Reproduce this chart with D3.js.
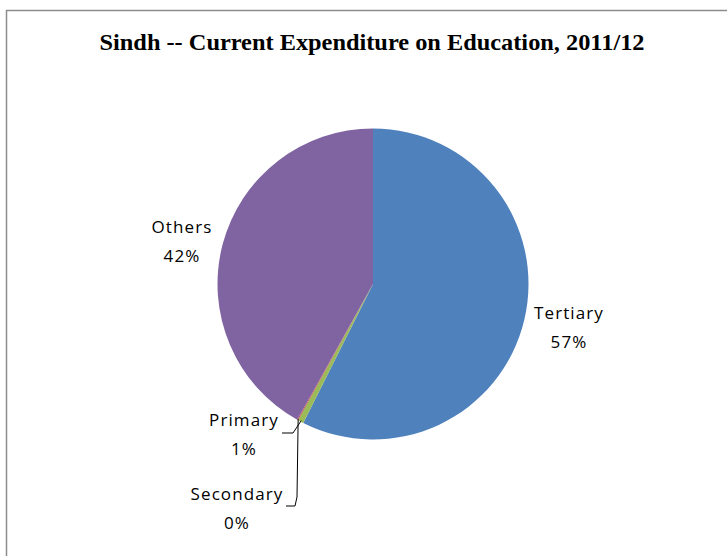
<!DOCTYPE html>
<html>
<head>
<meta charset="utf-8">
<script src="https://cdn.jsdelivr.net/npm/d3@7"></script>
<style>
  html, body { margin: 0; padding: 0; background: #fff; }
  svg { display: block; }
</style>
</head>
<body>
<svg id="chart" width="727" height="556"></svg>
<script>
// Current expenditure on education by level, Sindh 2011/12 (percent share)
const categories = ["Tertiary", "Primary", "Secondary", "Others"];
const shares = [57.4, 0.6, 0.1, 41.9];
const shareLabels = ["57%", "1%", "0%", "42%"];
const colors = ["#4F81BD", "#9BBB59", "#C0504D", "#8064A2"];

const svg = d3.select("#chart");
const W = 727, H = 556;

// chart frame
svg.append("rect")
  .attr("x", 6.5).attr("y", 10.5)
  .attr("width", W + 10).attr("height", H + 10)
  .attr("fill", "#fff")
  .attr("stroke", "#8c8c8c")
  .attr("stroke-width", 1.5);

// title
svg.append("text")
  .attr("x", 372).attr("y", 50)
  .attr("text-anchor", "middle")
  .attr("font-family", "'Liberation Serif', 'Times New Roman', serif")
  .attr("font-weight", "bold")
  .attr("font-size", 24)
  .attr("textLength", 545)
  .attr("lengthAdjust", "spacingAndGlyphs")
  .attr("fill", "#000")
  .text("Sindh -- Current Expenditure on Education, 2011/12");

const cx = 373, cy = 284, R = 155.5;
const g = svg.append("g").attr("transform", `translate(${cx},${cy})`);

const data = categories.map((c, i) => ({ name: c, value: shares[i], label: shareLabels[i], color: colors[i] }));
const pie = d3.pie().value(d => d.value).sort(null).startAngle(0).endAngle(2 * Math.PI);
const arcs = pie(data);
const arc = d3.arc().innerRadius(0).outerRadius(R);

g.selectAll("path.slice")
  .data(arcs)
  .join("path")
  .attr("class", "slice")
  .attr("d", arc)
  .attr("fill", d => d.data.color);

// label placement (relative to chart centre) and leader elbows
const labelPos = {
  Tertiary:  { x: 196, y: 35,  leader: null },
  Others:    { x: -191, y: -51, leader: null },
  Primary:   { x: -129, y: 142, leader: [[-80, 149], [-91, 149]] },
  Secondary: { x: -136, y: 216, leader: [[-76, 213], [-78, 222], [-87, 222]] }
};

const rimPoint = (a, r) => [Math.sin(a) * r, -Math.cos(a) * r];

arcs.forEach(a => {
  const p = labelPos[a.data.name];
  if (p.leader) {
    const mid = (a.startAngle + a.endAngle) / 2;
    const start = rimPoint(mid, R - 1);
    g.append("path")
      .attr("d", d3.line()([start, ...p.leader]))
      .attr("fill", "none")
      .attr("stroke", "#000")
      .attr("stroke-width", 1);
  }
  const t = g.append("text")
    .attr("text-anchor", "middle")
    .attr("font-family", "'Open Sans', 'Noto Sans', sans-serif")
    .attr("font-size", 17)
    .attr("letter-spacing", 1.1)
    .attr("fill", "#000");
  t.append("tspan").attr("x", p.x).attr("y", p.y).text(a.data.name);
  t.append("tspan").attr("x", p.x).attr("y", p.y + 29).text(a.data.label);
});
</script>
</body>
</html>
